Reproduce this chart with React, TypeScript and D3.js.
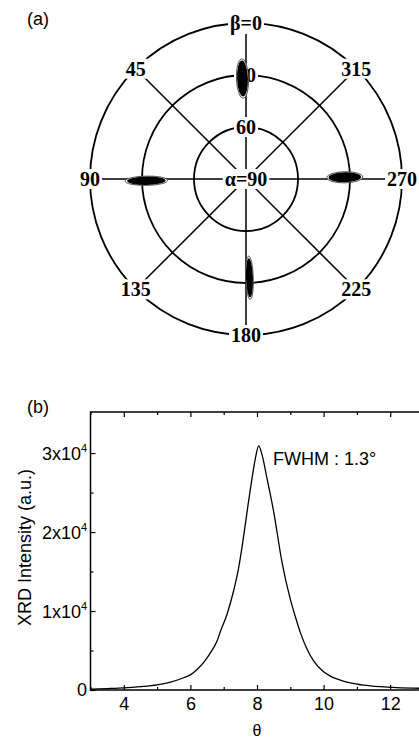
import React, { useEffect, useRef } from 'react'
import * as d3 from 'd3'

// (a) pole figure
const betaAngles = [0, 45, 90, 135, 180, 225, 270, 315]
const betaLabels = ['β=0', '45', '90', '135', '180', '225', '270', '315']
const alphaRings = [60, 30, 0]
const alphaLabelValues = [90, 60, 30]
const alphaLabelTexts = ['α=90', '60', '30']

// reflection spots (centre in beta/alpha, half extents in degrees)
const spotBeta = [2, 91, 182, 271]
const spotAlpha = [32, 32.5, 33, 33]
const spotLength = [11, 11.8, 12, 10]
const spotWidth = [3.1, 2.4, 2, 2.9]

// (b) rocking curve
const thetaValues = [
  3.0, 3.5, 4.0, 4.5, 5.0, 5.4, 5.8, 6.0, 6.2, 6.4, 6.6, 6.8, 6.9, 7.1, 7.3, 7.45, 7.55, 7.65, 7.75, 7.85,
  7.95, 8.05, 8.15, 8.3, 8.5, 8.75, 9.0, 9.15, 9.3, 9.5, 9.7, 10.0, 10.2, 10.5, 10.8, 11.2, 11.7, 12.2, 12.9
]
const intensityValues = [
  120, 180, 260, 420, 650, 1000, 1550, 1920, 2600, 3500, 4700, 6200, 7400, 9600, 12600, 15500, 18100, 21000,
  24000, 26800, 29300, 30900, 29800, 26800, 22600, 16200, 11500, 9300, 7300, 5200, 3700, 2300, 1750, 1250, 900,
  620, 420, 300, 220
]
const xMajorTicks = [4, 6, 8, 10, 12]
const xMinorTicks = [3, 5, 7, 9, 11, 13]
const yMajorTicks = [0, 10000, 20000, 30000]
const yTickMantissa = ['0', '1x10', '2x10', '3x10']
const yMinorTicks = [5000, 15000, 25000]

const SERIF = '"Liberation Serif", "Times New Roman", serif'
const SANS = '"Liberation Sans", Arial, sans-serif'

export default function App() {
  const ref = useRef<SVGSVGElement | null>(null)

  useEffect(() => {
    if (!ref.current) return
    const svg = d3.select(ref.current)
    svg.selectAll('*').remove()

    // ---------- (a) ----------
    const cx = 246
    const cy = 179
    const R = 156
    const rScale = d3.scaleLinear().domain([90, 0]).range([0, R])
    const pos = (beta: number, alpha: number) => {
      const b = (beta * Math.PI) / 180
      const r = rScale(alpha)
      return [cx - r * Math.sin(b), cy - r * Math.cos(b)]
    }

    const polar = svg.append('g')

    polar
      .selectAll('circle.ring')
      .data(alphaRings)
      .enter()
      .append('circle')
      .attr('cx', cx)
      .attr('cy', cy)
      .attr('r', (d) => rScale(d))
      .attr('fill', 'none')
      .attr('stroke', '#000')
      .attr('stroke-width', 1.8)

    polar
      .selectAll('line.spoke')
      .data(betaAngles)
      .enter()
      .append('line')
      .attr('x1', cx)
      .attr('y1', cy)
      .attr('x2', (d) => pos(d, 0)[0])
      .attr('y2', (d) => pos(d, 0)[1])
      .attr('stroke', '#000')
      .attr('stroke-width', 1.5)

    const labelWithBg = (g: any, x: number, y: number, text: string, size: number) => {
      const t = g
        .append('text')
        .attr('x', x)
        .attr('y', y)
        .attr('text-anchor', 'middle')
        .attr('dominant-baseline', 'central')
        .attr('font-family', SERIF)
        .attr('font-weight', 'bold')
        .attr('font-size', size)
        .text(text)
      const bb = (t.node() as SVGTextElement).getBBox()
      g.insert('rect', () => t.node())
        .attr('x', bb.x - 2)
        .attr('y', bb.y + 1)
        .attr('width', bb.width + 4)
        .attr('height', bb.height - 2)
        .attr('fill', '#fff')
    }

    betaAngles.forEach((b, i) => {
      const [x, y] = pos(b, 0)
      labelWithBg(polar, x, y, betaLabels[i], 20)
    })
    alphaLabelValues.forEach((a, i) => {
      const [x, y] = pos(0, a)
      labelWithBg(polar, x, y, alphaLabelTexts[i], 20)
    })

    // spots drawn as nested contours, elongated along alpha
    const pxPerDeg = R / 90
    spotBeta.forEach((b, i) => {
      const [x, y] = pos(b, spotAlpha[i])
      const rad = rScale(spotAlpha[i])
      const ang = (Math.atan2(y - cy, x - cx) * 180) / Math.PI
      const rx = spotLength[i] * pxPerDeg
      const ry = ((spotWidth[i] * Math.PI) / 180) * rad
      const g = polar.append('g').attr('transform', `translate(${x},${y}) rotate(${ang})`)
      g.append('ellipse')
        .attr('rx', rx * 1.04)
        .attr('ry', ry * 1.12)
        .attr('fill', '#fff')
        .attr('stroke', '#333')
        .attr('stroke-width', 0.8)
      g.append('ellipse').attr('rx', rx * 0.94).attr('ry', ry).attr('fill', '#000')
    })

    polar
      .append('text')
      .attr('x', 27)
      .attr('y', 25)
      .attr('font-family', SANS)
      .attr('font-size', 18)
      .text('(a)')

    // ---------- (b) ----------
    const left = 90.5
    const top = 412
    const bottom = 690
    const xScale = d3.scaleLinear().domain([3, 13]).range([left, 423.5])
    const yScale = d3.scaleLinear().domain([0, 35200]).range([bottom, top])

    const plot = svg.append('g')

    plot
      .append('rect')
      .attr('x', left)
      .attr('y', top)
      .attr('width', xScale(13) - left)
      .attr('height', bottom - top)
      .attr('fill', 'none')
      .attr('stroke', '#000')
      .attr('stroke-width', 1.5)

    const noDomain = (g: any) => g.select('.domain').remove()

    plot
      .append('g')
      .attr('transform', `translate(0,${bottom})`)
      .call(d3.axisBottom(xScale).tickValues(xMajorTicks).tickSizeInner(-5).tickSizeOuter(0).tickPadding(7))
      .call(noDomain)
      .call((g: any) => g.selectAll('text').attr('font-family', SANS).attr('font-size', 18).attr('fill', '#000'))
    plot
      .append('g')
      .attr('transform', `translate(0,${bottom})`)
      .call(d3.axisBottom(xScale).tickValues(xMinorTicks).tickSizeInner(-3).tickSizeOuter(0).tickFormat(() => ''))
      .call(noDomain)
    plot
      .append('g')
      .attr('transform', `translate(0,${top})`)
      .call(d3.axisTop(xScale).tickValues(xMajorTicks).tickSizeInner(-5).tickSizeOuter(0).tickFormat(() => ''))
      .call(noDomain)
    plot
      .append('g')
      .attr('transform', `translate(0,${top})`)
      .call(d3.axisTop(xScale).tickValues(xMinorTicks).tickSizeInner(-3).tickSizeOuter(0).tickFormat(() => ''))
      .call(noDomain)
    plot
      .append('g')
      .attr('transform', `translate(${left},0)`)
      .call(d3.axisLeft(yScale).tickValues(yMajorTicks).tickSizeInner(-5).tickSizeOuter(0).tickFormat(() => ''))
      .call(noDomain)
    plot
      .append('g')
      .attr('transform', `translate(${left},0)`)
      .call(d3.axisLeft(yScale).tickValues(yMinorTicks).tickSizeInner(-3).tickSizeOuter(0).tickFormat(() => ''))
      .call(noDomain)
    plot.selectAll('.tick line').attr('stroke', '#000').attr('stroke-width', 1.2)

    yMajorTicks.forEach((v, i) => {
      plot
        .append('text')
        .attr('x', i === 0 ? 87 : 81)
        .attr('y', yScale(v))
        .attr('dy', '0.36em')
        .attr('text-anchor', 'end')
        .attr('font-family', SANS)
        .attr('font-size', 18)
        .text(yTickMantissa[i])
      if (i > 0) {
        plot
          .append('text')
          .attr('x', 81)
          .attr('y', yScale(v) - 1)
          .attr('font-family', SANS)
          .attr('font-size', 11)
          .text('4')
      }
    })

    const points = thetaValues.map((t, i) => [t, intensityValues[i]] as [number, number])
    const line = d3
      .line<[number, number]>()
      .x((d) => xScale(d[0]))
      .y((d) => yScale(d[1]))
      .curve(d3.curveMonotoneX)

    plot
      .append('path')
      .datum(points)
      .attr('d', line)
      .attr('fill', 'none')
      .attr('stroke', '#000')
      .attr('stroke-width', 1.3)

    plot
      .append('text')
      .attr('x', 273)
      .attr('y', 465)
      .attr('font-family', SANS)
      .attr('font-size', 18)
      .text('FWHM : 1.3°')

    plot
      .append('text')
      .attr('transform', `translate(31,${(465 + 630) / 2}) rotate(-90)`)
      .attr('text-anchor', 'middle')
      .attr('font-family', SANS)
      .attr('font-size', 18)
      .text('XRD Intensity (a.u.)')

    plot
      .append('text')
      .attr('x', xScale(8))
      .attr('y', 736)
      .attr('text-anchor', 'middle')
      .attr('font-family', SANS)
      .attr('font-size', 16)
      .text('θ')

    plot
      .append('text')
      .attr('x', 27)
      .attr('y', 413)
      .attr('font-family', SANS)
      .attr('font-size', 18)
      .text('(b)')
  }, [])

  return (
    <svg
      ref={ref}
      width={419}
      height={742}
      style={{ position: 'absolute', left: 0, top: 0, background: '#fff' }}
    />
  )
}
